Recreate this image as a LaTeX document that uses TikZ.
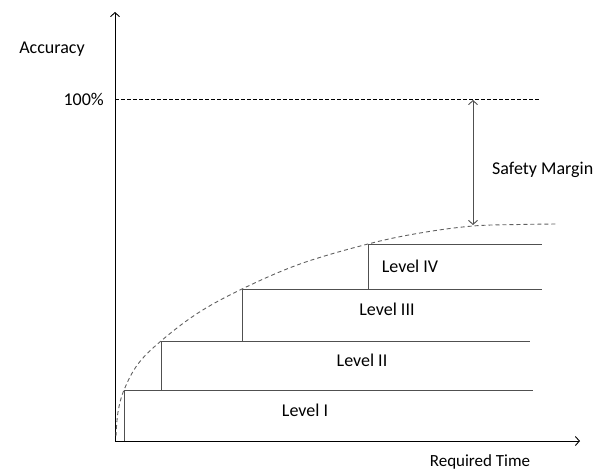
\documentclass[tikz,border=0pt]{standalone}
\usepackage{fontspec}
\setmainfont{Carlito}
\usetikzlibrary{arrows.meta}
\definecolor{stepline}{HTML}{505050}
\definecolor{curvegray}{HTML}{606060}
\begin{document}
\begin{tikzpicture}[x=1pt,y=-1pt,
  every node/.style={font=\fontsize{18}{21}\selectfont, inner sep=0pt},
  axis/.style={line width=0.9pt, -{Straight Barb[length=4pt,width=9pt]}},
  levelline/.style={draw=stepline, line width=1pt},
  limit/.style={line width=0.6pt, dash pattern=on 3.5pt off 2.5pt},
  envelope/.style={draw=curvegray, line width=0.9pt, dash pattern=on 4pt off 3pt},
  margin/.style={draw=stepline, line width=0.9pt, {Straight Barb[length=4pt,width=9pt]}-{Straight Barb[length=4pt,width=9pt]}},
  lbl/.style={anchor=center}]
\useasboundingbox (0,0) rectangle (595,472);

% axes
\coordinate (O) at (115,441);
\coordinate (ytop) at (115,12);
\coordinate (xend) at (580,441);
\draw[axis] (O) -- (ytop);
\draw[axis] (O) -- (xend);
\node[lbl] (acc) at (52,49) {Accuracy};
\node[lbl, font=\fontsize{17}{20}\selectfont] (rt) at (480,462) {Required Time};

% 100% limit
\coordinate (full) at (115,99);
\coordinate (fullend) at (540,99);
\draw[limit] (full) -- (fullend);
\node[anchor=east] (pct) at (104,99) {100\%};

% step corners
\coordinate (s1) at (124,390);
\coordinate (s2) at (161,341);
\coordinate (s3) at (242,289);
\coordinate (s4) at (368,244);
\coordinate (b1) at (124,441);
\coordinate (b2) at (161,390);
\coordinate (b3) at (242,341);
\coordinate (b4) at (368,289);
\coordinate (e1) at (533,390);
\coordinate (e2) at (530,341);
\coordinate (e3) at (542,289);
\coordinate (e4) at (542,244);

\draw[levelline] (b1) -- (s1) -- (e1);
\draw[levelline] (b2) -- (s2) -- (e2);
\draw[levelline] (b3) -- (s3) -- (e3);
\draw[levelline] (b4) -- (s4) -- (e4);

\node[lbl] (l1) at (305,410) {Level I};
\node[lbl] (l2) at (362,360) {Level II};
\node[lbl] (l3) at (387,309) {Level III};
\node[lbl] (l4) at (410,266) {Level IV};

% accuracy envelope
\draw[envelope] plot[smooth, tension=0.6] coordinates
  {(116,436) (118,412) (124,390) (138,364) (161,341) (198,313) (242,289) (300,264) (368,244) (420,233) (473,226) (520,224.5) (557,224)};

% safety margin
\coordinate (mtop) at (473,100);
\coordinate (mbot) at (473,225);
\draw[margin] (mtop) -- (mbot);
\node[anchor=west] (sm) at (492,170) {Safety Margin};
\end{tikzpicture}
\end{document}
